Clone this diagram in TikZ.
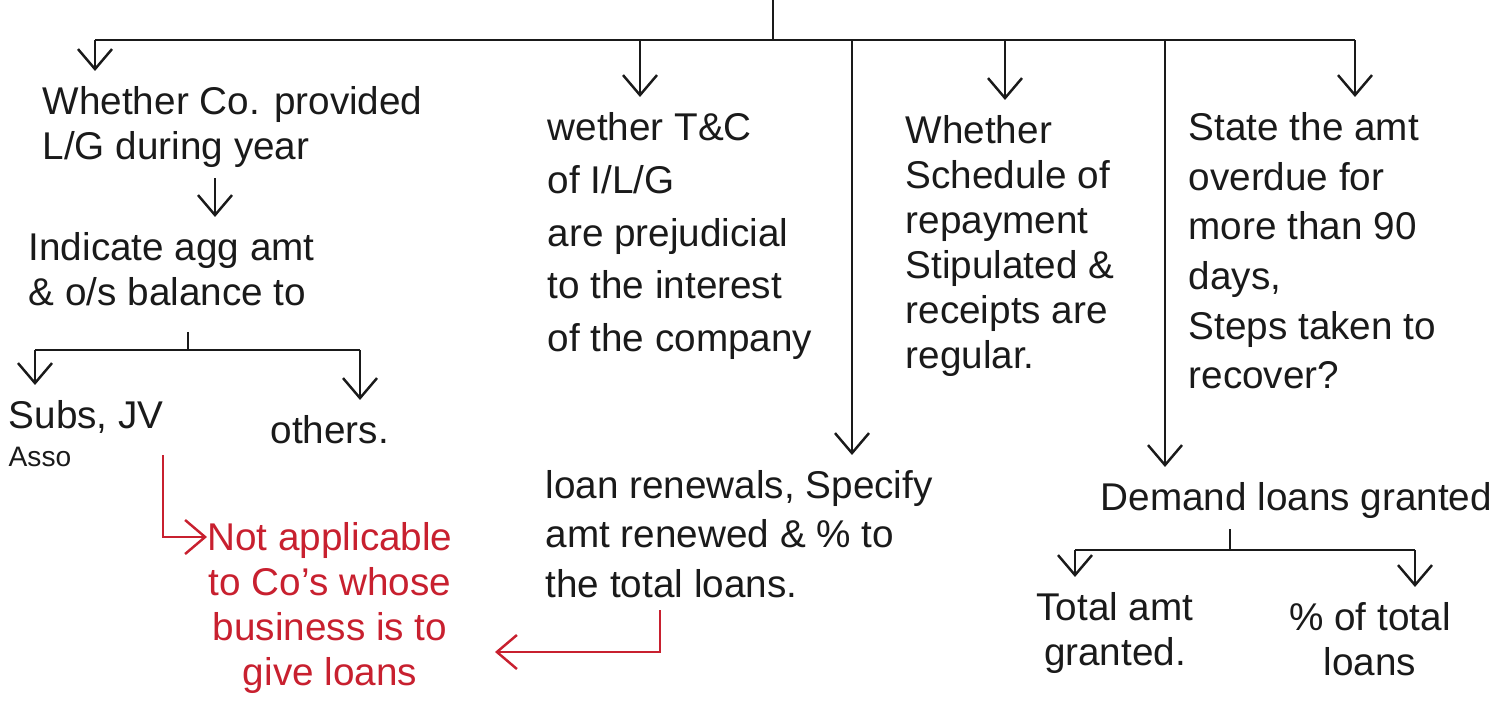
\documentclass[tikz,border=0pt]{standalone}
\usepackage{fontspec}
\setmainfont{Liberation Sans}
\usetikzlibrary{arrows.meta,positioning,calc}
\definecolor{inkblack}{HTML}{1A1A1A}
\definecolor{notered}{HTML}{C8202F}
\tikzset{
  hand/.style={font=\fontsize{11}{12.8}\selectfont, text=inkblack, align=left, anchor=north west, inner sep=0pt},
  note/.style={hand, text=notered, align=center, anchor=north},
  link/.style={draw=inkblack, line width=0.7pt},
  arrow/.style={link, -{Straight Barb[length=2mm,width=3.4mm]}, shorten >=1.5mm},
  redarrow/.style={arrow, draw=notered, shorten >=0.5mm}
}

\begin{document}
\begin{tikzpicture}[x=0.01cm, y=-0.01cm]
  \useasboundingbox (0,0) rectangle (1490,706);

  % questions under the main bar
  \node[hand] (prov) at (42,86) {Whether Co. provided\\L/G during year};
  \node[hand] (ind) at (28,232) {Indicate agg amt\\\& o/s balance to};
  \node[hand] (subs) at (8,400) {Subs, JV\\[-2pt]{\footnotesize Asso}};
  \node[hand] (others) at (270,415) {others.};
  \node[note] (note) at (330,522) {Not applicable\\to Co's whose\\business is to\\give loans};
  \node[hand, font=\fontsize{11}{15}\selectfont] (tc) at (547,112) {wether T\&C\\of I/L/G\\are prejudicial\\to the interest\\of the company};
  \node[hand, font=\fontsize{11}{14}\selectfont] (renew) at (545,470) {loan renewals, Specify\\amt renewed \& \% to\\the total loans.};
  \node[hand] (sched) at (905,115) {Whether\\Schedule of\\repayment\\Stipulated \&\\receipts are\\regular.};
  \node[hand, font=\fontsize{11}{14.1}\selectfont] (state) at (1188,112) {State the amt\\overdue for\\more than 90\\days,\\Steps taken to\\recover?};
  \node[hand] (demand) at (1100,482) {Demand loans granted};
  \node[hand, anchor=north, align=center] (total) at (1115,592) {Total amt\\granted.};
  \node[hand, anchor=north, align=center] (pct) at (1370,602) {\% of total\\loans};

  % main bar
  \coordinate (top) at (773,0);
  \coordinate (hub) at (773,40);
  \coordinate (b1) at (95,40);
  \coordinate (b2) at (640,40);
  \coordinate (b3) at (852,40);
  \coordinate (b4) at (1005,40);
  \coordinate (b5) at (1165,40);
  \coordinate (b6) at (1355,40);
  \draw[link] (top) -- (hub);
  \draw[link] (b1) -- (b6);
  \draw[arrow] (b1) -- (b1 |- prov.north);
  \draw[arrow] (b2) -- (b2 |- tc.north);
  \draw[arrow] (b3) -- (b3 |- renew.north);
  \draw[arrow] (b4) -- (b4 |- sched.north);
  \draw[arrow] (b5) -- (b5 |- demand.north);
  \draw[arrow] (b6) -- (b6 |- state.north);

  % left branch
  \coordinate (m1) at (215,0);
  \draw[arrow, shorten <=1mm] (m1 |- prov.south) -- (m1 |- ind.north);
  \coordinate (split) at (188,350);
  \coordinate (sl) at (35,350);
  \coordinate (sr) at (360,350);
  \draw[link, shorten <=2.5mm] (split |- ind.south) -- (split);
  \draw[link] (sl) -- (sr);
  \draw[arrow] (sl) -- (sl |- subs.north);
  \draw[arrow] (sr) -- (sr |- others.north);

  % demand loans split
  \coordinate (dsplit) at (1230,550);
  \coordinate (dl) at (1075,550);
  \coordinate (dr) at (1415,550);
  \draw[link, shorten <=1mm] (dsplit |- demand.south) -- (dsplit);
  \draw[link] (dl) -- (dr);
  \draw[arrow] (dl) -- (dl |- total.north);
  \draw[arrow] (dr) -- (dr |- pct.north);

  % red remarks
  \coordinate (n0) at (163,455);
  \coordinate (n1) at (212,537);
  \draw[redarrow] (n0) |- (n1);
  \coordinate (r0) at (660,610);
  \coordinate (r1) at (490,652);
  \draw[redarrow] (r0) |- (r1);
\end{tikzpicture}
\end{document}
